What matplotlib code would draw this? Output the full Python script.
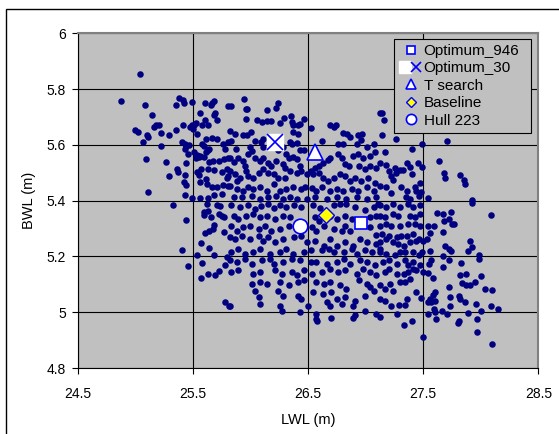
import numpy as np
import matplotlib
matplotlib.use("Agg")
import matplotlib.pyplot as plt
from matplotlib.legend_handler import HandlerTuple
from matplotlib.patches import Rectangle
from matplotlib.ticker import FormatStrFormatter

plt.rcParams['font.family'] = ['Liberation Sans', 'DejaVu Sans']

# design population: (LWL, BWL) in metres
designs = [
    # upper left block
    (25.04, 5.855), (24.87, 5.757), (25.08, 5.743), (25.14, 5.708), (25.38, 5.768),
    (25.41, 5.760), (25.42, 5.750), (25.35, 5.743), (25.49, 5.753), (25.60, 5.749),
    (25.65, 5.744), (25.66, 5.752), (25.68, 5.757), (25.80, 5.738), (25.56, 5.713),
    (25.69, 5.715), (25.68, 5.709), (25.71, 5.691), (25.60, 5.690), (25.58, 5.671),
    (25.63, 5.671), (24.99, 5.653), (25.02, 5.646), (25.18, 5.670), (25.20, 5.671),
    (25.16, 5.666), (25.10, 5.636), (25.11, 5.628), (25.22, 5.642), (25.29, 5.635),
    (25.35, 5.652), (25.41, 5.673), (25.47, 5.665), (25.49, 5.673), (25.51, 5.672),
    (25.52, 5.677), (25.50, 5.657), (25.53, 5.641), (25.06, 5.610), (25.22, 5.597),
    (25.40, 5.611), (25.43, 5.605), (25.44, 5.595), (25.46, 5.600), (25.43, 5.585),
    (25.58, 5.605), (25.59, 5.595), (25.61, 5.621), (25.66, 5.624), (25.71, 5.621),
    (25.64, 5.584), (25.76, 5.605), (25.78, 5.587), (25.80, 5.612), (25.09, 5.548),
    (25.26, 5.538), (25.45, 5.567), (25.51, 5.573), (25.53, 5.565), (25.55, 5.556),
    (25.52, 5.553), (25.56, 5.559), (25.59, 5.556), (25.61, 5.573), (25.63, 5.581),
    (25.44, 5.536), (25.36, 5.512), (25.37, 5.503), (25.29, 5.489), (25.43, 5.493),
    (25.53, 5.504), (25.55, 5.491), (25.57, 5.513), (25.63, 5.513), (25.68, 5.511),
    (25.64, 5.539), (25.67, 5.543), (25.72, 5.543), (25.77, 5.548), (25.80, 5.554),
    (25.75, 5.504), (25.79, 5.515), (25.56, 5.467), (25.61, 5.479), (25.62, 5.460),
    (25.66, 5.450), (25.71, 5.450), (25.76, 5.456), (25.42, 5.468), (25.44, 5.458),
    (25.11, 5.431), (25.43, 5.419), (25.49, 5.409), (25.56, 5.411), (25.63, 5.408),
    (25.68, 5.422), (25.75, 5.424), (25.80, 5.453), (25.79, 5.481), (25.80, 5.490),
    # lower left block
    (25.32, 5.384), (25.44, 5.330), (25.62, 5.390), (25.71, 5.384), (25.73, 5.380),
    (25.59, 5.359), (25.59, 5.349), (25.63, 5.364), (25.65, 5.340), (25.72, 5.354),
    (25.75, 5.347), (25.77, 5.342), (25.68, 5.312), (25.67, 5.299), (25.64, 5.292),
    (25.60, 5.284), (25.77, 5.287), (25.57, 5.248), (25.64, 5.229), (25.68, 5.205),
    (25.79, 5.198), (25.40, 5.222), (25.53, 5.207), (25.45, 5.167), (25.58, 5.176),
    (25.63, 5.139), (25.57, 5.124), (25.69, 5.135), (25.72, 5.147), (25.78, 5.170),
    (25.78, 5.038), (25.81, 5.024),
    # upper middle block
    (25.94, 5.764), (25.96, 5.730), (25.97, 5.730), (26.24, 5.751), (26.22, 5.732),
    (26.14, 5.725), (25.83, 5.738), (25.96, 5.692), (26.05, 5.691), (26.10, 5.684),
    (26.14, 5.687), (26.18, 5.687), (26.25, 5.677), (26.29, 5.698), (26.35, 5.704),
    (26.36, 5.684), (26.37, 5.672), (26.41, 5.671), (26.43, 5.675), (26.46, 5.692),
    (26.52, 5.660), (26.69, 5.672), (26.74, 5.672), (26.72, 5.663), (26.80, 5.643),
    (26.84, 5.639), (26.86, 5.630), (26.93, 5.636), (26.97, 5.639), (27.12, 5.713),
    (25.82, 5.651), (25.86, 5.639), (25.83, 5.615), (25.93, 5.636), (25.97, 5.636),
    (26.00, 5.645), (26.04, 5.615), (26.11, 5.620), (26.37, 5.648), (26.41, 5.641),
    (26.34, 5.612), (26.36, 5.603), (26.40, 5.608), (26.43, 5.581), (26.46, 5.581),
    (26.62, 5.615), (26.76, 5.603), (26.80, 5.603), (26.92, 5.603), (26.96, 5.617),
    (27.01, 5.591), (27.07, 5.605), (25.99, 5.591), (26.01, 5.579), (25.98, 5.567),
    (25.87, 5.585), (26.09, 5.609), (26.11, 5.591), (26.24, 5.581), (26.28, 5.591),
    (26.31, 5.569), (26.33, 5.553), (26.37, 5.557), (26.40, 5.549), (25.82, 5.555),
    (25.85, 5.540), (25.89, 5.553), (25.93, 5.543), (25.95, 5.525), (26.04, 5.555),
    (26.08, 5.543), (26.11, 5.553), (26.15, 5.537), (26.18, 5.525), (26.22, 5.543),
    (26.28, 5.531), (26.30, 5.519), (26.43, 5.525), (26.52, 5.507), (26.56, 5.519),
    (26.59, 5.525), (26.63, 5.537), (26.67, 5.546), (26.69, 5.553), (26.76, 5.567),
    (26.79, 5.553), (26.82, 5.531), (26.85, 5.525), (26.89, 5.561), (26.93, 5.567),
    (26.98, 5.555), (27.04, 5.561), (27.08, 5.573), (26.94, 5.525), (26.99, 5.513),
    (27.04, 5.525), (27.09, 5.519), (25.82, 5.507), (25.86, 5.495), (25.91, 5.483),
    (25.88, 5.471), (25.96, 5.507), (25.98, 5.489), (26.02, 5.483), (26.07, 5.498),
    (26.11, 5.513), (26.15, 5.501), (26.20, 5.495), (26.24, 5.483), (26.30, 5.483),
    (26.34, 5.507), (26.40, 5.501), (26.44, 5.505), (26.49, 5.495), (26.54, 5.495),
    (26.59, 5.501), (26.63, 5.483), (26.67, 5.471), (26.72, 5.483), (26.78, 5.495),
    (26.82, 5.489), (26.86, 5.471), (26.91, 5.483), (26.96, 5.471), (27.02, 5.483),
    (27.08, 5.465), (25.82, 5.454), (25.88, 5.442), (25.93, 5.436), (25.98, 5.448),
    (26.02, 5.442), (26.08, 5.448), (26.14, 5.436), (26.20, 5.460), (26.25, 5.436),
    (26.31, 5.442), (26.37, 5.448), (26.44, 5.442), (26.47, 5.448), (26.53, 5.445),
    (26.57, 5.436), (26.62, 5.448), (26.69, 5.436), (26.75, 5.442), (26.80, 5.436),
    (26.88, 5.442), (26.93, 5.436), (27.01, 5.448), (27.07, 5.436), (25.85, 5.412),
    (25.92, 5.412), (26.01, 5.418), (26.08, 5.406), (26.15, 5.412), (26.22, 5.418),
    (26.28, 5.406), (26.34, 5.412), (26.40, 5.406), (26.49, 5.406), (26.56, 5.412),
    (26.66, 5.406), (26.75, 5.412), (26.83, 5.406), (26.92, 5.412), (27.01, 5.406),
    (27.09, 5.412),
    # upper right block
    (27.14, 5.715), (27.16, 5.691), (27.14, 5.636), (27.26, 5.621), (27.49, 5.605),
    (27.40, 5.587), (27.71, 5.615), (27.17, 5.575), (27.12, 5.537), (27.18, 5.529),
    (27.20, 5.507), (27.25, 5.516), (27.26, 5.498), (27.30, 5.510), (27.32, 5.510),
    (27.36, 5.537), (27.38, 5.522), (27.40, 5.495), (27.22, 5.489), (27.24, 5.476),
    (27.45, 5.534), (27.49, 5.522), (27.64, 5.541), (27.68, 5.501), (27.69, 5.483),
    (27.82, 5.491), (27.85, 5.475), (27.86, 5.459), (27.12, 5.452), (27.18, 5.450),
    (27.22, 5.426), (27.31, 5.450), (27.36, 5.436), (27.43, 5.448), (27.44, 5.436),
    (27.47, 5.462), (27.48, 5.431), (27.35, 5.412), (27.38, 5.406), (27.46, 5.418),
    (27.54, 5.409), (27.92, 5.402),
    # lower right block
    (27.92, 5.392), (28.09, 5.349), (27.62, 5.355), (27.67, 5.351), (27.74, 5.358),
    (27.72, 5.335), (27.75, 5.316), (27.77, 5.315), (27.68, 5.328), (27.54, 5.311),
    (27.59, 5.309), (27.56, 5.285), (27.67, 5.287), (27.69, 5.239), (27.72, 5.227),
    (27.74, 5.221), (27.91, 5.256), (27.92, 5.233), (27.89, 5.218), (27.98, 5.206),
    (27.98, 5.192), (27.67, 5.201), (27.72, 5.186), (27.67, 5.163), (27.83, 5.176),
    (27.82, 5.132), (27.87, 5.139), (28.00, 5.130), (27.84, 5.104), (27.87, 5.098),
    (27.91, 5.096), (27.95, 5.108), (28.04, 5.082), (28.10, 5.079), (27.56, 5.218),
    (27.57, 5.186), (27.55, 5.174), (27.54, 5.141), (27.58, 5.122), (27.72, 5.089),
    (27.60, 5.072), (27.58, 5.063), (27.56, 5.048), (27.54, 5.036), (27.57, 5.036),
    (27.60, 5.039), (27.73, 5.054), (27.81, 5.058), (27.82, 5.048), (27.86, 5.036),
    (27.73, 5.024), (27.66, 5.006), (27.60, 5.000), (27.61, 4.977), (27.54, 4.995),
    (27.59, 5.010), (27.71, 4.992), (27.80, 4.962), (27.81, 4.967), (27.89, 4.997),
    (27.97, 4.977), (27.96, 5.030), (28.00, 5.004), (28.09, 5.021), (28.15, 5.010),
    (27.97, 4.931), (28.10, 4.885), (27.50, 4.910), (27.40, 4.969), (27.33, 4.954),
    (27.27, 4.992), (27.12, 4.984), (27.12, 5.048), (27.17, 5.042), (27.22, 5.024),
    (27.29, 5.027), (27.34, 5.027), (27.36, 5.048), (27.12, 5.096), (27.17, 5.084),
    (27.21, 5.102), (27.30, 5.108), (27.34, 5.110), (27.38, 5.120), (27.44, 5.072),
    (27.48, 5.050), (27.24, 5.075), (27.17, 5.144), (27.20, 5.156), (27.27, 5.138),
    (27.33, 5.138), (27.37, 5.144), (27.41, 5.156), (27.44, 5.150), (27.50, 5.144),
    (27.15, 5.180), (27.20, 5.186), (27.27, 5.174), (27.34, 5.186), (27.37, 5.168),
    (27.41, 5.180), (27.47, 5.168), (27.12, 5.216), (27.18, 5.210), (27.25, 5.204),
    (27.30, 5.216), (27.34, 5.216), (27.41, 5.216), (27.46, 5.204), (27.49, 5.216),
    (27.12, 5.251), (27.18, 5.263), (27.24, 5.251), (27.28, 5.245), (27.33, 5.239),
    (27.38, 5.251), (27.44, 5.257), (27.50, 5.257), (27.53, 5.263), (27.14, 5.281),
    (27.20, 5.275), (27.27, 5.269), (27.31, 5.275), (27.36, 5.275), (27.41, 5.281),
    (27.46, 5.263), (27.12, 5.311), (27.18, 5.317), (27.22, 5.311), (27.30, 5.311),
    (27.37, 5.317), (27.43, 5.317), (27.47, 5.311), (27.12, 5.347), (27.17, 5.341),
    (27.24, 5.353), (27.28, 5.347), (27.38, 5.347), (27.43, 5.341), (27.47, 5.353),
    (27.12, 5.383), (27.18, 5.377), (27.24, 5.389), (27.30, 5.377), (27.37, 5.389),
    (27.41, 5.377), (27.47, 5.383),
    # lower middle block
    (25.83, 5.383), (25.91, 5.377), (25.98, 5.385), (26.04, 5.371), (26.09, 5.381),
    (26.15, 5.389), (26.20, 5.373), (26.25, 5.383), (26.31, 5.377), (26.38, 5.385),
    (26.44, 5.377), (26.54, 5.385), (26.60, 5.373), (26.72, 5.383), (26.78, 5.389),
    (26.83, 5.389), (26.91, 5.377), (26.99, 5.365), (27.07, 5.377), (27.11, 5.389),
    (25.85, 5.347), (25.89, 5.335), (25.96, 5.347), (26.02, 5.353), (26.08, 5.341),
    (26.14, 5.347), (26.21, 5.335), (26.28, 5.347), (26.34, 5.341), (26.56, 5.341),
    (26.59, 5.329), (26.69, 5.347), (26.75, 5.335), (26.82, 5.347), (26.88, 5.335),
    (27.04, 5.341), (27.09, 5.347), (25.83, 5.311), (25.88, 5.293), (25.93, 5.305),
    (25.99, 5.311), (26.07, 5.299), (26.12, 5.311), (26.18, 5.293), (26.25, 5.299),
    (26.33, 5.311), (26.53, 5.305), (26.57, 5.293), (26.64, 5.311), (26.72, 5.299),
    (26.79, 5.293), (26.82, 5.311), (26.86, 5.293), (27.04, 5.305), (27.09, 5.278),
    (25.82, 5.269), (25.86, 5.263), (25.92, 5.275), (25.99, 5.263), (26.07, 5.275),
    (26.11, 5.257), (26.15, 5.269), (26.21, 5.251), (26.28, 5.263), (26.38, 5.269),
    (26.44, 5.275), (26.49, 5.251), (26.56, 5.257), (26.64, 5.239), (26.69, 5.263),
    (26.75, 5.239), (26.82, 5.251), (26.89, 5.239), (26.95, 5.263), (27.01, 5.251),
    (27.09, 5.245), (25.83, 5.216), (25.89, 5.227), (25.95, 5.210), (26.02, 5.216),
    (26.08, 5.227), (26.17, 5.210), (26.25, 5.216), (26.31, 5.227), (26.37, 5.210),
    (26.46, 5.216), (26.52, 5.222), (26.62, 5.222), (26.68, 5.227), (26.72, 5.216),
    (26.81, 5.216), (26.88, 5.227), (26.92, 5.210), (26.99, 5.222), (27.05, 5.216),
    (27.12, 5.227), (25.82, 5.186), (25.88, 5.180), (25.95, 5.192), (26.01, 5.174),
    (26.10, 5.186), (26.17, 5.192), (26.20, 5.174), (26.28, 5.180), (26.36, 5.192),
    (26.43, 5.186), (26.52, 5.180), (26.57, 5.180), (26.66, 5.174), (26.75, 5.180),
    (26.81, 5.192), (26.86, 5.174), (26.95, 5.186), (27.01, 5.180), (27.08, 5.168),
    (25.83, 5.144), (25.89, 5.150), (26.02, 5.138), (26.08, 5.144), (26.21, 5.150),
    (26.27, 5.138), (26.36, 5.144), (26.40, 5.132), (26.46, 5.150), (26.53, 5.138),
    (26.62, 5.144), (26.69, 5.156), (26.76, 5.144), (26.82, 5.150), (26.92, 5.138),
    (26.98, 5.156), (27.04, 5.144), (27.09, 5.132), (26.01, 5.102), (26.08, 5.108),
    (26.14, 5.102), (26.25, 5.108), (26.33, 5.096), (26.41, 5.108), (26.46, 5.114),
    (26.57, 5.108), (26.64, 5.102), (26.69, 5.108), (26.78, 5.096), (26.83, 5.084),
    (26.94, 5.114), (27.01, 5.102), (27.04, 5.090), (26.04, 5.078), (26.07, 5.054),
    (26.24, 5.078), (26.28, 5.060), (26.41, 5.060), (26.44, 5.048), (26.54, 5.072),
    (26.63, 5.066), (26.66, 5.036), (26.70, 5.072), (26.75, 5.048), (26.82, 5.054),
    (26.91, 5.042), (26.99, 5.060), (27.07, 5.078), (25.82, 5.024), (26.08, 5.030),
    (26.25, 5.024), (26.27, 5.006), (26.43, 5.000), (26.50, 5.024), (26.57, 4.994),
    (26.69, 5.024), (26.79, 5.030), (26.89, 5.024), (26.99, 5.006), (27.09, 4.994),
    (26.58, 4.967), (26.57, 4.977), (26.70, 4.979), (26.89, 4.979), (26.91, 4.989),
]

# highlighted hulls: (LWL, BWL)
optimum_946 = (26.96, 5.32)
optimum_30 = (26.21, 5.61)
t_search = (26.56, 5.575)
baseline = (26.65, 5.348)
hull_223 = (26.43, 5.31)

x_ticks = [24.5, 25.5, 26.5, 27.5, 28.5]
y_ticks = [4.8, 5.0, 5.2, 5.4, 5.6, 5.8, 6.0]

lwl, bwl = np.array(designs).T

fig = plt.figure(figsize=(5.59, 4.34), dpi=100)
ax = fig.add_axes([0.140, 0.152, 0.823, 0.771])

# chart border (right and bottom edges run off the canvas)
fig.patches.append(Rectangle((0.010, -0.1), 1.1, 1.080,
                             transform=fig.transFigure, fill=False,
                             edgecolor='black', linewidth=1.0))

ax.set_facecolor('#C0C0C0')
ax.set_xlim(x_ticks[0], x_ticks[-1])
ax.set_ylim(y_ticks[0], y_ticks[-1])
ax.set_xticks(x_ticks)
ax.set_yticks(y_ticks)
ax.yaxis.set_major_formatter(FormatStrFormatter('%g'))
ax.grid(True, color='black', linewidth=0.8)
ax.set_axisbelow(True)

for side in ('top', 'right'):
    ax.spines[side].set_color('#808080')
    ax.spines[side].set_linewidth(1.5)
for side in ('left', 'bottom'):
    ax.spines[side].set_color('black')
    ax.spines[side].set_linewidth(0.8)

ax.tick_params(direction='out', length=4, width=0.8, labelsize=10)
ax.tick_params(axis='x', pad=10)
ax.tick_params(axis='y', pad=5)

ax.scatter(lwl, bwl, s=22, color='#000080', linewidths=0, zorder=3)

blue = '#0000FF'
h946, = ax.plot(*optimum_946, marker='s', ms=9, mfc='white', mec=blue, mew=1.2,
                ls='none', zorder=5)
h30bg, = ax.plot(*optimum_30, marker='s', ms=12, mfc='white', mec='white',
                 ls='none', zorder=5)
h30, = ax.plot(*optimum_30, marker='x', ms=11, mec=blue, mew=1.2,
               ls='none', zorder=6)
hts, = ax.plot(*t_search, marker='^', ms=11, mfc='white', mec=blue, mew=1.2,
               ls='none', zorder=5)
hbl, = ax.plot(*baseline, marker='D', ms=8, mfc='#FFFF00', mec=blue, mew=1.0,
               ls='none', zorder=5)
h223, = ax.plot(*hull_223, marker='o', ms=10.5, mfc='white', mec=blue, mew=1.2,
                ls='none', zorder=5)

leg = ax.legend([h946, (h30bg, h30), hts, hbl, h223],
                ['Optimum_946', 'Optimum_30', 'T search', 'Baseline', 'Hull 223'],
                handler_map={tuple: HandlerTuple(ndivide=None, pad=0)},
                loc='upper left', bbox_to_anchor=(0.686, 0.70, 0.298, 0.284),
                mode='expand', borderaxespad=0,
                fontsize=11, handlelength=1.5, handletextpad=0.1,
                labelspacing=0.22, borderpad=0.35, fancybox=False,
                framealpha=1, markerscale=0.7)
leg.get_frame().set_facecolor('#C0C0C0')
leg.get_frame().set_edgecolor('black')
leg.get_frame().set_linewidth(0.8)
leg.set_zorder(10)

ax.set_xlabel('LWL (m)', fontsize=10.5)
ax.set_ylabel('BWL (m)', fontsize=10.5)
ax.xaxis.set_label_coords(0.5, -0.135)
ax.yaxis.set_label_coords(-0.092, 0.5)

fig.savefig('out.png', dpi=100)
